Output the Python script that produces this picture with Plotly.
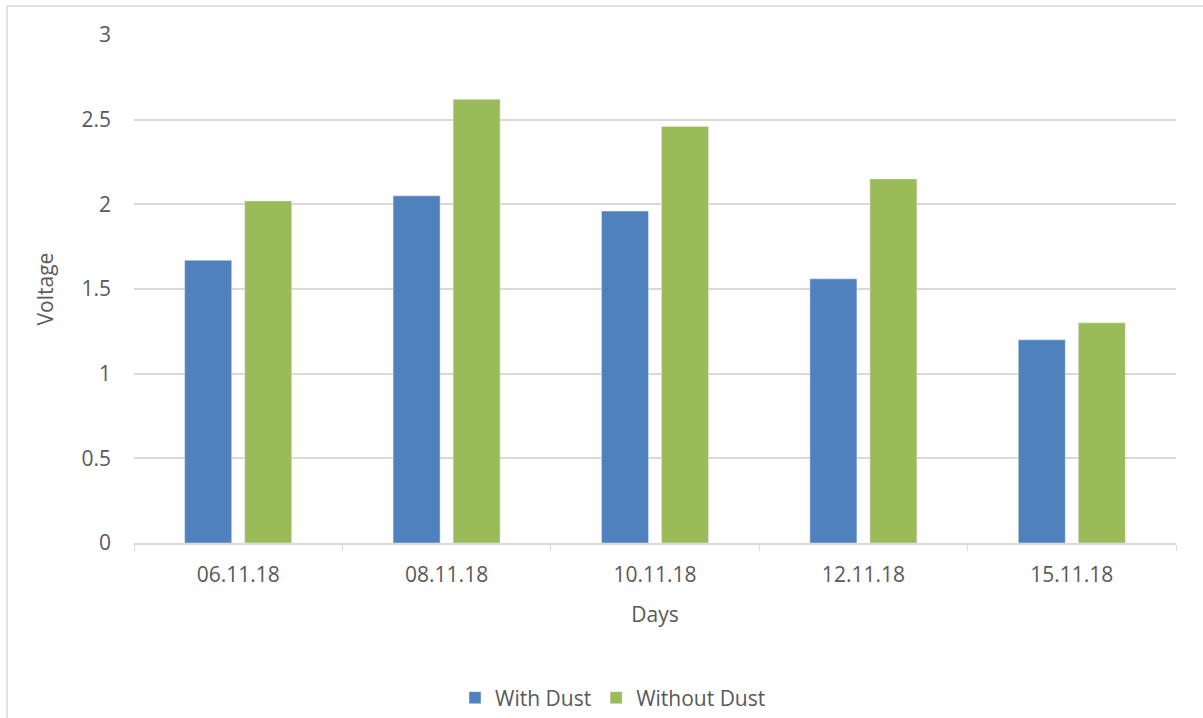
import plotly.graph_objects as go

days = ["06.11.18", "08.11.18", "10.11.18", "12.11.18", "15.11.18"]
with_dust = [1.67, 2.05, 1.96, 1.56, 1.20]
without_dust = [2.02, 2.62, 2.46, 2.15, 1.30]
y_ticks = [0, 0.5, 1, 1.5, 2, 2.5, 3]

FONT = "Open Sans"
TXT = "#595959"
GRID = "#d9d9d9"

fig = go.Figure()
fig.add_trace(go.Bar(name="With Dust", x=days, y=with_dust, marker_color="#4f81bd"))
fig.add_trace(go.Bar(name="Without Dust", x=days, y=without_dust, marker_color="#9bbb59"))

L, R, T, B = 134, 27, 35, 175
W, H = 1203, 718
pw, ph = W - L - R, H - T - B

fig.update_layout(
    width=W, height=H,
    margin=dict(l=L, r=R, t=T, b=B, autoexpand=False),
    paper_bgcolor="white", plot_bgcolor="white",
    barmode="group", bargap=0.424, bargroupgap=0.217,
    font=dict(family=FONT, size=21, color=TXT),
    showlegend=True,
    legend=dict(orientation="h", x=(613 - L) / pw, xanchor="center",
                yref="container", y=(H - 698) / H, yanchor="middle",
                font=dict(size=21, color=TXT),
                traceorder="normal"),
    xaxis=dict(title=dict(text="Days", font=dict(size=21, color=TXT), standoff=20),
               showline=True, linecolor=GRID, linewidth=1.5,
               ticks="outside", tickson="boundaries", ticklen=6, tickcolor=GRID,
               ticklabelstandoff=12,
               tickfont=dict(size=21, color=TXT), showgrid=False),
    yaxis=dict(title=dict(text="Voltage", font=dict(size=21, color=TXT), standoff=22),
               range=[0, 3], tickvals=y_ticks, ticktext=[f"{v:g}" for v in y_ticks],
               showgrid=True, gridcolor=GRID, gridwidth=1.5,
               zeroline=False, showline=False, ticks="",
               ticklabelstandoff=22, tickfont=dict(size=21, color=TXT)),
    shapes=[dict(type="rect", xref="paper", yref="paper",
                 x0=(7 - L) / pw, x1=(W + 10 - L) / pw,
                 y0=-(H + 10 - (H - B)) / ph, y1=1 + (T - 6) / ph,
                 line=dict(color=GRID, width=1.5), fillcolor="rgba(0,0,0,0)",
                 layer="below")],
)

fig.write_html("out.html")
